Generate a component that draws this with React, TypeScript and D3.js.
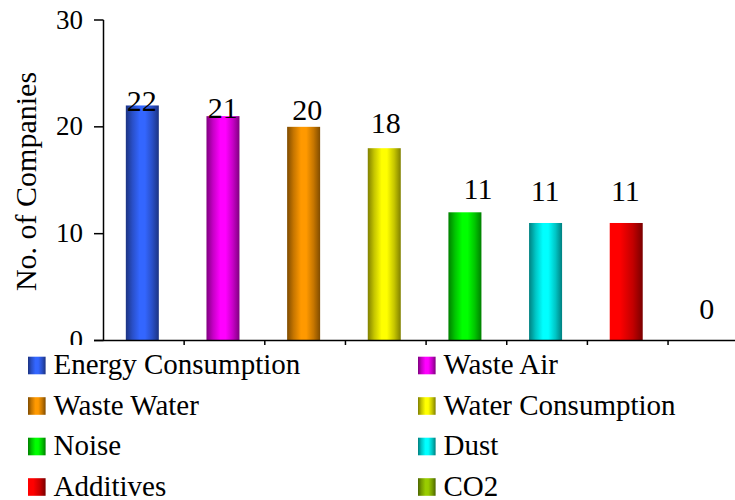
import React, { useEffect, useRef } from "react";
import * as d3 from "d3";

const categories = [
  "Energy Consumption",
  "Waste Air",
  "Waste Water",
  "Water Consumption",
  "Noise",
  "Dust",
  "Additives",
  "CO2",
];
const values = [22, 21, 20, 18, 12, 11, 11, 0];
const valueLabels = ["22", "21", "20", "18", "11", "11", "11", "0"];
const yTicks = [0, 10, 20, 30];
const yTitle = "No. of Companies";

const brightColors = ["#3366ff", "#ff00ff", "#ff9900", "#ffff00", "#00ff00", "#00ffff", "#ff0000", "#99cc00"];
const darkColors = ["#1c3382", "#800080", "#804c00", "#808000", "#007f00", "#008080", "#7a0000", "#4d6600"];

// layout nudges of the value labels (as placed in the original picture)
const labelNudge = [
  [-2, 6], [-1.7, 2], [2, -6.5], [0, -15.5], [11.6, -13], [-2, -21.5], [-2.4, -21.5], [-1.6, -22],
];

const W = 735;
const H = 500;
const FF = "Liberation Serif";

export default function App() {
  const ref = useRef<SVGSVGElement | null>(null);
  useEffect(() => {
    if (!ref.current) return;
    d3.select(ref.current)
      .selectAll<SVGTextElement, unknown>("text")
      .each(function () {
        this.style.setProperty("font-family", "'Liberation Serif', serif", "important");
      });
  }, []);

  const x0 = 103.5;
  const step = 80.65;
  const x = d3
    .scaleBand()
    .domain(categories)
    .range([x0, x0 + step * categories.length])
    .padding(0);
  const y = d3.scaleLinear().domain([0, 30]).range([340.5, 20]);
  const barW = 33;
  const bw = x.bandwidth();

  const legendTop = 356.7;
  const rowH = 40.5;
  const colX = [28, 418];
  const sw = 17.6;

  return (
    <svg ref={ref} width={W} height={H} style={{ position: "absolute", left: 0, top: 0 }}>
      <style>{`svg text { font-family: 'Liberation Serif', serif !important; }`}</style>
      <defs>
        {categories.map((c, i) => {
          const b = brightColors[i];
          const dk = darkColors[i];
          const mid = d3.interpolateRgb(dk, b)(0.55);
          const red = i === 6;
          return (
            <linearGradient key={c} id={`g${i}`} x1="0" x2="1" y1="0" y2="0">
              {red ? (
                <>
                  <stop offset="0" stopColor={b} />
                  <stop offset="0.3" stopColor={b} />
                  <stop offset="0.7" stopColor={mid} />
                  <stop offset="1" stopColor={dk} />
                </>
              ) : (
                <>
                  <stop offset="0" stopColor={dk} />
                  <stop offset="0.2" stopColor={mid} />
                  <stop offset="0.42" stopColor={b} />
                  <stop offset="0.58" stopColor={b} />
                  <stop offset="0.8" stopColor={mid} />
                  <stop offset="1" stopColor={dk} />
                </>
              )}
            </linearGradient>
          );
        })}
      </defs>

      {/* bars */}
      {categories.map((c, i) => {
        const bx = (x(c) as number) + (bw - barW) / 2 - 1.5;
        const top = y(values[i]);
        return values[i] > 0 ? (
          <rect key={c} x={bx} y={top} width={barW} height={y(0) - top} fill={`url(#g${i})`} />
        ) : null;
      })}

      {/* value labels */}
      {categories.map((c, i) => {
        const cx = (x(c) as number) + bw / 2 + labelNudge[i][0];
        const by = y(values[i]) + labelNudge[i][1];
        return (
          <text key={c} x={cx} y={by} textAnchor="middle" fontSize={30} fontFamily={FF} fill="#000">
            {valueLabels[i]}
          </text>
        );
      })}

      {/* y axis */}
      <line x1={x0} x2={x0} y1={y(30)} y2={y(0)} stroke="#000" strokeWidth={1.5} />
      {yTicks.map((t) => (
        <g key={t}>
          <line x1={x0 - 9.5} x2={x0} y1={y(t)} y2={y(t)} stroke="#000" strokeWidth={1.5} />
          <text x={83} y={y(t) + 8.5} textAnchor="end" fontSize={27} fontFamily={FF} fill="#000">
            {t}
          </text>
        </g>
      ))}
      <text
        transform={`translate(36, ${(73 + 290) / 2}) rotate(-90)`}
        textAnchor="middle"
        fontSize={30}
        fontFamily={FF}
        fill="#000"
      >
        {yTitle}
      </text>

      {/* x axis */}
      <line x1={x0 - 9.5} x2={x0 + step * categories.length} y1={y(0)} y2={y(0)} stroke="#000" strokeWidth={1.5} />
      {categories.map((c, i) =>
        i > 0 ? (
          <line key={c} x1={x(c) as number} x2={x(c) as number} y1={y(0)} y2={y(0) + 5} stroke="#000" strokeWidth={1.5} />
        ) : null
      )}

      {/* legend */}
      <rect x={0} y={345} width={W} height={H - 345} fill="#fff" />
      {categories.map((c, i) => {
        const col = i % 2;
        const row = Math.floor(i / 2);
        const sx = colX[col];
        const sy = legendTop + row * rowH;
        return (
          <g key={c}>
            <rect x={sx} y={sy} width={sw} height={sw} fill={`url(#g${i})`} />
            <text x={sx + 25.5} y={sy + sw} fontSize={29} fontFamily={FF} fill="#000">
              {c}
            </text>
          </g>
        );
      })}
    </svg>
  );
}
